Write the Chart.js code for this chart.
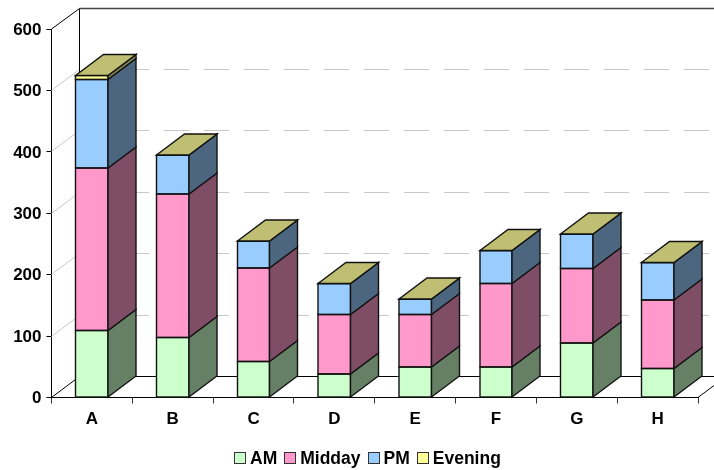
<!DOCTYPE html>
<html>
<head>
<meta charset="utf-8">
<title>Stacked bars</title>
<script src="https://cdn.jsdelivr.net/npm/chart.js@4"></script>
<style>
  html, body { margin: 0; padding: 0; background: #fff; }
  #wrap { position: relative; width: 714px; height: 470px; overflow: hidden; }
  #legend { position: absolute; left: 234px; top: 448px; display: flex; align-items: center;
            font: bold 17.5px "Liberation Sans", Arial, sans-serif; color: #000; line-height: 20px; white-space: nowrap; }
  #legend i { display: block; width: 10px; height: 10px; border: 1px solid #333; margin: 0 4px 0 0; }
  #legend span { margin-right: 7px; }
</style>
</head>
<body>
<div id="wrap">
  <canvas id="chart" width="714" height="470"></canvas>
  <div id="legend"></div>
</div>
<script>
'use strict';

const categories = ['A', 'B', 'C', 'D', 'E', 'F', 'G', 'H'];
const am      = [109,  98,  59,  38,  50,  50,  89,  47];
const midday  = [265, 233, 152,  97,  85, 136, 121, 112];
const pm      = [144,  64,  44,  51,  25,  53,  56,  61];
const evening = [  6,   0,   0,   0,   0,   0,   0,   0];
const yTicks  = [0, 100, 200, 300, 400, 500, 600];

const seriesNames  = ['AM', 'Midday', 'PM', 'Evening'];
const seriesValues = [am, midday, pm, evening];
const frontColors  = ['#CCFFCC', '#FF99CC', '#99CCFF', '#FFFF99'];
const sideColors   = ['#668066', '#804D66', '#4D6680', '#808050'];
const topColor     = '#BFBF73';

const DEPTH_X = 28;
const DEPTH_Y = 21;

const snap = v => Math.floor(v) + 0.5;
const halfSnap = v => Math.round(v * 2) / 2;

// walls + floor, behind the bars
const wallsPlugin = {
  id: 'walls',
  beforeDatasetsDraw(chart) {
    const { ctx, chartArea: a, scales: { y } } = chart;
    ctx.save();
    ctx.lineWidth = 1;

    // gridlines: solid on the side wall, dashed on the back wall
    yTicks.slice(1, -1).forEach(v => {
      const py = snap(y.getPixelForValue(v));
      ctx.strokeStyle = '#c8c8c8';
      ctx.setLineDash([]);
      ctx.beginPath();
      ctx.moveTo(a.left, py);
      ctx.lineTo(a.left + DEPTH_X, py - DEPTH_Y);
      ctx.stroke();
      ctx.setLineDash([25, 15]);
      ctx.beginPath();
      ctx.moveTo(a.left + DEPTH_X + 4.5, py - DEPTH_Y);
      ctx.lineTo(a.right + DEPTH_X, py - DEPTH_Y);
      ctx.stroke();
    });
    ctx.setLineDash([]);

    const backL = snap(a.left + DEPTH_X), backT = snap(a.top - DEPTH_Y), backB = snap(a.bottom - DEPTH_Y);
    ctx.strokeStyle = '#000';
    ctx.beginPath();
    ctx.moveTo(a.left, a.top);
    ctx.lineTo(backL, backT);
    ctx.moveTo(a.left, a.bottom);
    ctx.lineTo(backL, backB);
    ctx.moveTo(backL, backT);
    ctx.lineTo(backL, backB);
    ctx.moveTo(a.right, a.bottom);
    ctx.lineTo(a.right + DEPTH_X, backB);
    ctx.moveTo(backL, backB);
    ctx.lineTo(a.right + DEPTH_X, backB);
    ctx.stroke();

    ctx.strokeStyle = '#444';
    ctx.lineWidth = 1.5;
    ctx.beginPath();
    ctx.moveTo(backL, backT);
    ctx.lineTo(a.right + DEPTH_X, backT);
    ctx.stroke();
    ctx.restore();
  },

  // outlines, side and top faces, read from the bar elements the library laid out
  afterDatasetsDraw(chart) {
    const { ctx } = chart;
    const last = chart.data.datasets.length - 1;
    ctx.save();
    ctx.lineWidth = 1.4;
    ctx.strokeStyle = '#111';
    chart.data.datasets.forEach((ds, i) => {
      chart.getDatasetMeta(i).data.forEach(bar => {
        const l = halfSnap(bar.x - bar.width / 2);
        const r = halfSnap(bar.x + bar.width / 2);
        const top = halfSnap(bar.y);
        const base = halfSnap(bar.base);

        ctx.strokeRect(l, top, r - l, base - top);

        ctx.fillStyle = sideColors[i];
        ctx.beginPath();
        ctx.moveTo(r, base);
        ctx.lineTo(r + DEPTH_X, base - DEPTH_Y);
        ctx.lineTo(r + DEPTH_X, top - DEPTH_Y);
        ctx.lineTo(r, top);
        ctx.closePath();
        ctx.fill();
        ctx.stroke();

        if (i === last) {
          ctx.fillStyle = topColor;
          ctx.beginPath();
          ctx.moveTo(l, top);
          ctx.lineTo(l + DEPTH_X, top - DEPTH_Y);
          ctx.lineTo(r + DEPTH_X, top - DEPTH_Y);
          ctx.lineTo(r, top);
          ctx.closePath();
          ctx.fill();
          ctx.stroke();
        }
      });
    });
    ctx.restore();
  }
};

const axisFont = { family: '"Liberation Sans", Arial, sans-serif', size: 17, weight: 'bold' };

new Chart(document.getElementById('chart').getContext('2d'), {
  type: 'bar',
  data: {
    labels: categories,
    datasets: seriesNames.map((name, i) => ({
      label: name,
      data: seriesValues[i],
      backgroundColor: frontColors[i],
      borderWidth: 0,
      barPercentage: 0.4,
      categoryPercentage: 1
    }))
  },
  options: {
    responsive: false,
    animation: false,
    layout: { padding: { top: 29, right: 16, left: 0, bottom: 0 } },
    plugins: { legend: { display: false }, tooltip: { enabled: false } },
    scales: {
      x: {
        stacked: true,
        afterFit: s => { s.height = 72.5; },
        grid: { drawOnChartArea: false, color: '#333', tickLength: 6 },
        border: { color: '#000' },
        ticks: { color: '#000', font: axisFont, padding: 6, maxRotation: 0 }
      },
      y: {
        stacked: true,
        min: 0,
        max: 600,
        afterFit: s => { s.width = 51.5; },
        afterBuildTicks: s => { s.ticks = yTicks.map(v => ({ value: v })); },
        grid: { drawOnChartArea: false, color: '#000', tickLength: 5 },
        border: { color: '#000' },
        ticks: { color: '#000', font: axisFont, padding: 5, labelOffset: 1 }
      }
    }
  },
  plugins: [wallsPlugin]
});

document.getElementById('legend').innerHTML = seriesNames.map((name, i) =>
  `<i style="background:${frontColors[i]}"></i><span>${name}</span>`).join('');
</script>
</body>
</html>
